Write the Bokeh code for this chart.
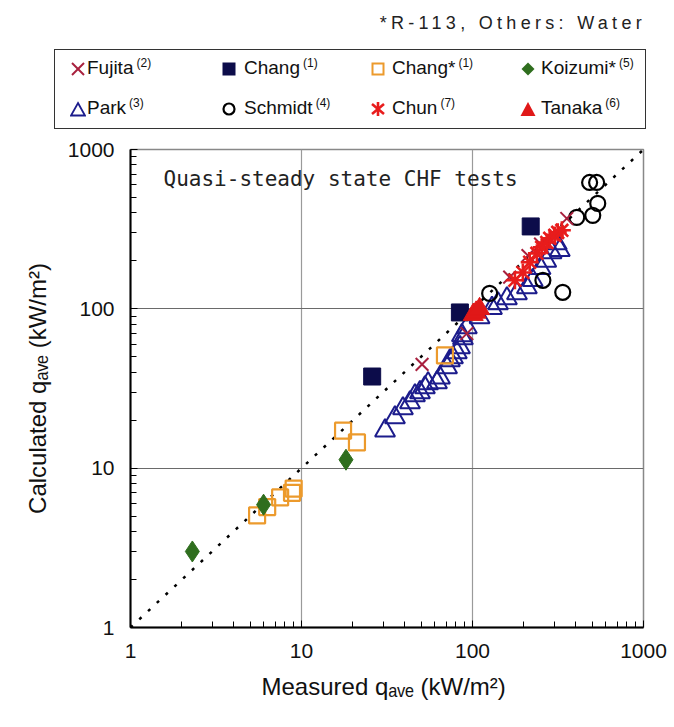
from bokeh.plotting import figure
from bokeh.layouts import column
from bokeh.models import (Range1d, FixedTicker, PrintfTickFormatter, Label, Div)
from bokeh.embed import file_html
from bokeh.resources import INLINE

# ---------------- data (measured vs calculated q_ave, kW/m2) ----------------
fujita_x = [50.7, 92.7, 165, 211, 250, 356]
fujita_y = [44.8, 70.0, 158, 216, 255, 369]

chang_x = [25.9, 84.4, 219]
chang_y = [37.6, 94.9, 329]

changr_x = [5.5, 6.3, 7.5, 8.8, 9.0, 17.5, 21.1, 69]
changr_y = [5.05, 5.7, 6.55, 7.0, 7.45, 17.2, 14.5, 51]

koizumi_x = [2.3, 6.0, 18.2]
koizumi_y = [3.0, 5.9, 11.3]

park_x = [30.8, 35.2, 39.2, 43.1, 46.1, 49.3, 52.7, 55, 62, 64.5, 71, 73.8,
          76.9, 81, 84.5, 86.7, 87.9, 92.7, 110, 130, 141, 159, 182, 208,
          225, 250, 270, 290, 311, 324]
park_y = [17.2, 20.8, 23.7, 25.8, 28.6, 29.9, 32.1, 34, 34.5, 37, 42.9, 47.4,
          49.5, 53.2, 57.3, 68.1, 65.2, 76.4, 88.3, 101, 108, 116, 125, 136,
          151, 180, 200, 226, 257, 233]

schmidt_x = [484, 532, 540, 505, 407, 258, 337, 126]
schmidt_y = [621, 621, 459, 386, 375, 151, 127, 125]

chun_x = [177, 197, 216, 238, 254, 272, 283, 303, 315, 333]
chun_y = [151, 169, 196, 223, 243, 261, 277, 289, 302, 311]

tanaka_x = [101, 105, 110]
tanaka_y = [92, 95, 100]

diag = [1, 1000]

major_ticks = [1, 10, 100, 1000]
minor_ticks = [2, 3, 4, 5, 6, 7, 8, 9, 20, 30, 40, 50, 60, 70, 80, 90,
               200, 300, 400, 500, 600, 700, 800, 900]

series_names = ["Fujita", "Chang", "Chang*", "Koizumi*",
                "Park", "Schmidt", "Chun", "Tanaka"]
series_refs = ["(2)", "(1)", "(1)", "(5)", "(3)", "(4)", "(7)", "(6)"]

note = "*R-113, Others: Water"
inner_title = "Quasi-steady state CHF tests"

FONT = "Liberation Sans"
SPACED = "DejaVu Sans Mono"

C_FUJITA, C_CHANG, C_CHANGR, C_KOIZUMI = "#a8203e", "#0c0c4a", "#ec9a2c", "#2f6e1e"
C_PARK, C_SCHMIDT, C_CHUN, C_TANAKA = "#1c1c8c", "#000000", "#e81c1c", "#e01818"

# ---------------- header: note + legend (HTML) ----------------
swatch = {
    "Fujita": f'<line x1="2" y1="2" x2="14" y2="14" stroke="{C_FUJITA}" stroke-width="2"/>'
              f'<line x1="14" y1="2" x2="2" y2="14" stroke="{C_FUJITA}" stroke-width="2"/>',
    "Chang": f'<rect x="1.5" y="1.5" width="13" height="13" fill="{C_CHANG}"/>',
    "Chang*": f'<rect x="2.5" y="2.5" width="11" height="11" fill="none" stroke="{C_CHANGR}" stroke-width="2"/>',
    "Koizumi*": f'<polygon points="8,1.5 14.5,8 8,14.5 1.5,8" fill="{C_KOIZUMI}"/>',
    "Park": f'<polygon points="8,2 15,14.5 1,14.5" fill="none" stroke="{C_PARK}" stroke-width="1.8"/>',
    "Schmidt": f'<circle cx="8" cy="8" r="5.5" fill="none" stroke="{C_SCHMIDT}" stroke-width="2.2"/>',
    "Chun": f'<line x1="8" y1="1" x2="8" y2="15" stroke="{C_CHUN}" stroke-width="2.6"/>'
            f'<line x1="2" y1="3" x2="14" y2="13" stroke="{C_CHUN}" stroke-width="2.6"/>'
            f'<line x1="14" y1="3" x2="2" y2="13" stroke="{C_CHUN}" stroke-width="2.6"/>',
    "Tanaka": f'<polygon points="8,1 15.5,15 0.5,15" fill="{C_TANAKA}"/>',
}
col_marker = [70, 221, 370, 520]
col_text = [87, 244, 392, 541]
row_mid = [69, 109]

parts = []
for i, (name, ref) in enumerate(zip(series_names, series_refs)):
    row, col = divmod(i, 4)
    mx, tx, cy = col_marker[col], col_text[col], row_mid[row]
    parts.append(
        f'<svg width="16" height="16" style="position:absolute;left:{mx}px;top:{cy - 8}px">'
        f'{swatch[name]}</svg>')
    parts.append(
        f'<div style="position:absolute;left:{tx}px;top:{cy - 12}px;line-height:22px;'
        f'font-size:19px;white-space:nowrap">{name}'
        f'<span style="position:relative;top:-7px;font-size:12px;margin-left:3px">{ref}</span></div>')

html = (
    f'<div style="position:relative;width:674px;height:132px;font-family:\'{FONT}\';'
    f'color:#111;background:white">'
    f'<div style="position:absolute;right:28px;top:13px;font-size:18px;line-height:20px;'
    f'letter-spacing:4.3px;white-space:nowrap;color:#222">{note}</div>'
    f'<div style="position:absolute;left:54px;top:49px;width:592px;height:80px;'
    f'box-sizing:border-box;border:1.5px solid #333"></div>'
    + "".join(parts) + '</div>')

header = Div(text=html, width=674, height=132, margin=0)

# ---------------- main chart ----------------
p = figure(width=674, height=595, x_axis_type="log", y_axis_type="log",
           x_range=Range1d(1, 1000), y_range=Range1d(1, 1000),
           output_backend="svg", toolbar_location=None,
           min_border_left=130, min_border_right=31,
           min_border_top=17, min_border_bottom=100)
p.background_fill_color = "white"
p.border_fill_color = "white"
p.outline_line_color = "#888888"
p.outline_line_width = 1.5

for ax in (p.xaxis[0], p.yaxis[0]):
    ax.ticker = FixedTicker(ticks=major_ticks, minor_ticks=minor_ticks)
    ax.formatter = PrintfTickFormatter(format="%d")
    ax.major_tick_in = 7
    ax.major_tick_out = 0
    ax.minor_tick_in = 6
    ax.minor_tick_out = 0
    ax.axis_line_width = 2
    ax.axis_line_color = "black"
    ax.major_tick_line_color = "black"
    ax.minor_tick_line_color = "black"
    ax.major_label_text_font = FONT
    ax.major_label_text_font_size = "21px"
    ax.major_label_text_color = "#111111"
    ax.axis_label_text_font = FONT
    ax.axis_label_text_font_size = "24px"
    ax.axis_label_text_font_style = "normal"
    ax.axis_label_text_color = "#111111"

p.xaxis.major_label_standoff = 16
p.yaxis.major_label_standoff = 16
p.xaxis.axis_label_standoff = 12
p.yaxis.axis_label_standoff = 14
p.xaxis.axis_label = "Measured  q\u2090\u1d65\u2091 (kW/m\u00b2)"
p.yaxis.axis_label = "Calculated q\u2090\u1d65\u2091 (kW/m\u00b2)"

p.xgrid.grid_line_color = "#9a9a9a"
p.xgrid.grid_line_width = 1.2
p.ygrid.grid_line_color = "#6a6a6a"
p.ygrid.grid_line_width = 1.2

p.line(diag, diag, line_color="black", line_width=2.5, line_dash="3 9")

p.scatter(park_x, park_y, marker="triangle", size=20, fill_color=None,
          line_color=C_PARK, line_width=2)
p.scatter(schmidt_x, schmidt_y, marker="circle", size=15, fill_color=None,
          line_color=C_SCHMIDT, line_width=2.2)
p.scatter(fujita_x, fujita_y, marker="x", size=18, line_color=C_FUJITA,
          line_width=2)
p.scatter(changr_x, changr_y, marker="square", size=16, fill_color=None,
          line_color=C_CHANGR, line_width=2.2)
p.scatter(koizumi_x, koizumi_y, marker="diamond", size=21,
          fill_color=C_KOIZUMI, line_color=C_KOIZUMI)
p.scatter(chang_x, chang_y, marker="square", size=17, fill_color=C_CHANG,
          line_color=C_CHANG)
p.scatter(chun_x, chun_y, marker="asterisk", size=18, line_color=C_CHUN,
          line_width=2.6)
p.scatter(tanaka_x, tanaka_y, marker="triangle", size=20, fill_color=C_TANAKA,
          line_color=C_TANAKA)

p.add_layout(Label(x=1.56, y=655, text=inner_title,
                   text_font=SPACED, text_font_size="21px",
                   text_color="#222222", text_baseline="alphabetic"))

layout = column(header, p, spacing=0)
open("out.html", "w").write(file_html(layout, INLINE))
